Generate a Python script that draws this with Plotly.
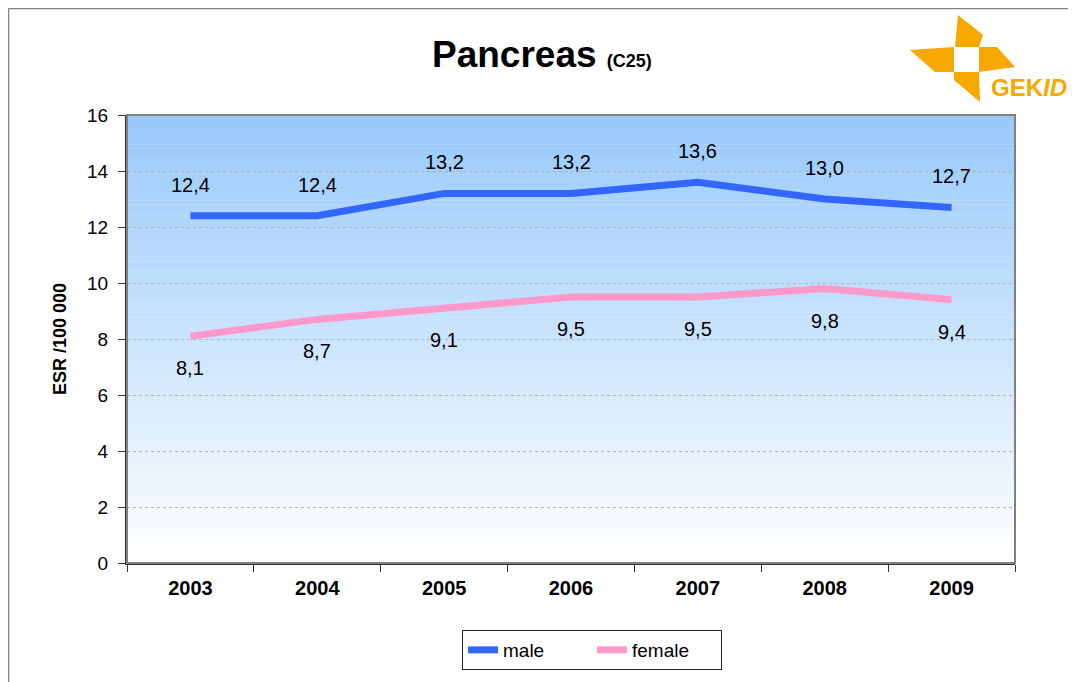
import plotly.graph_objects as go

years = ["2003", "2004", "2005", "2006", "2007", "2008", "2009"]
male = [12.4, 12.4, 13.2, 13.2, 13.6, 13.0, 12.7]
female = [8.1, 8.7, 9.1, 9.5, 9.5, 9.8, 9.4]
y_ticks = [0, 2, 4, 6, 8, 10, 12, 14, 16]

FONT = "Arial, Liberation Sans, sans-serif"
OFF = 8  # browser body margin
W, H = 1076 - OFF, 682 - OFF
L, R, T, B = 127 - OFF, 61, 115 - OFF, 119
PW, PH = W - L - R, H - T - B


def px2paper(x, y):
    # x, y in page (screenshot) pixels
    return (x - OFF - L) / PW, (H - B - (y - OFF)) / PH


fig = go.Figure()
fig.add_trace(go.Scatter(x=years, y=male, mode="lines", name="male",
                         line=dict(color="#3366FF", width=7)))
fig.add_trace(go.Scatter(x=years, y=female, mode="lines", name="female",
                         line=dict(color="#FF99CC", width=7)))

shapes = []
# gradient background in plot area
N = 120
top = (151, 201, 251)
bot = (255, 255, 255)
for i in range(N):
    t = i / (N - 1)
    c = tuple(round(top[k] + (bot[k] - top[k]) * t) for k in range(3))
    shapes.append(dict(type="rect", xref="paper", yref="paper", layer="below",
                       x0=0, x1=1, y0=1 - (i + 1) / N, y1=1 - i / N + 0.001,
                       line=dict(width=0), fillcolor="rgb(%d,%d,%d)" % c))
# plot border (gray)
shapes.append(dict(type="rect", xref="paper", yref="paper", x0=0, x1=1, y0=0, y1=1,
                   line=dict(color="#808080", width=2), layer="above"))
# outer frame
fx0, fy0 = px2paper(OFF + 0.5, OFF + 0.5)
fx1, fy1 = px2paper(1100, 700)
shapes.append(dict(type="line", xref="paper", yref="paper", x0=fx0, x1=fx0, y0=fy0, y1=fy1,
                   line=dict(color="#808080", width=1.5)))
shapes.append(dict(type="line", xref="paper", yref="paper", x0=fx0, x1=fx1, y0=fy0, y1=fy0,
                   line=dict(color="#808080", width=1.5)))


# GEKID logo (pinwheel)
def poly(pts, color):
    d = ""
    for j, (x, y) in enumerate(pts):
        px, py = px2paper(x, y)
        d += ("M" if j == 0 else "L") + f"{px},{py} "
    return dict(type="path", xref="paper", yref="paper", path=d + "Z",
                fillcolor=color, line=dict(width=0))


LOGO = "#F7A800"
shapes.append(poly([(958, 15), (983, 35), (979, 47), (955, 47)], LOGO))
shapes.append(poly([(910, 50), (954, 47), (954, 72), (935, 72)], LOGO))
shapes.append(poly([(979, 47), (997, 47), (1015, 67), (979, 72)], LOGO))
shapes.append(poly([(954, 72), (979, 72), (980, 102), (954, 80)], LOGO))

annotations = []
for i, v in enumerate(male):
    annotations.append(dict(x=i, y=v, text=f"{v:.1f}".replace(".", ","), showarrow=False,
                            xanchor="center", yanchor="middle",
                            yshift=31, font=dict(family=FONT, size=20, color="black")))
for i, v in enumerate(female):
    annotations.append(dict(x=i, y=v, text=f"{v:.1f}".replace(".", ","), showarrow=False,
                            xanchor="center", yanchor="middle",
                            yshift=-32, font=dict(family=FONT, size=20, color="black")))

tx, ty = px2paper(542, 54)
annotations.append(dict(xref="paper", yref="paper", x=tx, y=ty, showarrow=False,
                        xanchor="center", yanchor="middle",
                        text="<b>Pancreas</b> <b><span style='font-size:18px'>(C25)</span></b>",
                        font=dict(family=FONT, size=37, color="black")))
ax_, ay_ = px2paper(60, 339)
annotations.append(dict(xref="paper", yref="paper", x=ax_, y=ay_, showarrow=False,
                        xanchor="center", yanchor="middle",
                        textangle=-90, text="<b>ESR /100 000</b>",
                        font=dict(family=FONT, size=18, color="black")))
gx, gy = px2paper(1029, 87)
annotations.append(dict(xref="paper", yref="paper", x=gx, y=gy, showarrow=False,
                        xanchor="center", yanchor="middle",
                        text="<b>GEK<i>ID</i></b>",
                        font=dict(family=FONT, size=24, color=LOGO)))

lx, ly = px2paper(592, 630)

fig.update_layout(
    width=W, height=H,
    margin=dict(l=L, r=R, t=T, b=B, autoexpand=False),
    paper_bgcolor="white", plot_bgcolor="rgba(0,0,0,0)",
    font=dict(family=FONT, size=19, color="black"),
    showlegend=True,
    legend=dict(orientation="h", x=lx, y=ly, xanchor="center", yanchor="top",
                bordercolor="#222", borderwidth=1, bgcolor="white",
                font=dict(family=FONT, size=19), entrywidth=84,
                entrywidthmode="pixels"),
    shapes=shapes, annotations=annotations,
    xaxis=dict(type="category", range=[-0.5, 6.5], tickson="boundaries",
               ticks="outside", ticklen=7, tickcolor="#333", showgrid=False,
               showline=True, linecolor="#333", linewidth=2, zeroline=False,
               tickfont=dict(family=FONT, size=20, weight="bold"),
               ticklabelstandoff=6),
    yaxis=dict(range=[0, 16], tickvals=y_ticks, ticks="outside", ticklen=7,
               tickcolor="#333", showline=True, linecolor="#333", linewidth=2,
               showgrid=True, gridcolor="#b4b4b4", griddash="dot", gridwidth=1,
               zeroline=False, tickfont=dict(family=FONT, size=19),
               ticklabelstandoff=6),
)

fig.write_html("out.html")
